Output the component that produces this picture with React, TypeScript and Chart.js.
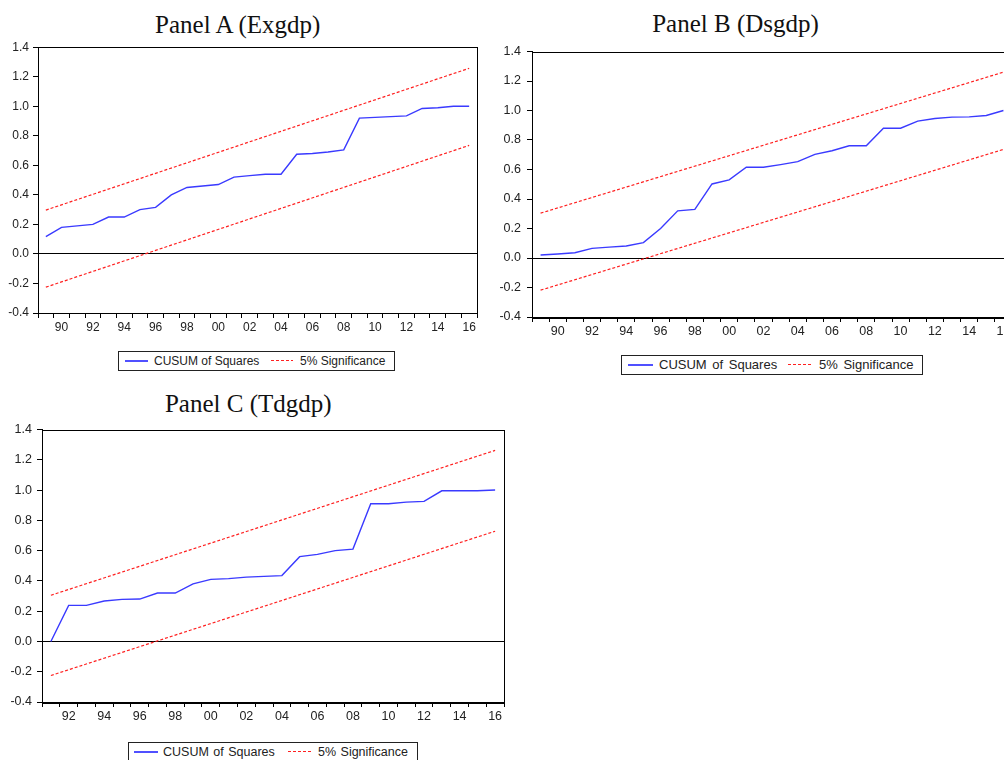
import React, { useEffect, useRef } from "react";
import { Chart, registerables } from "chart.js";

Chart.register(...registerables);

// ---------- DATA ----------
const yearsA = [1989, 1990, 1991, 1992, 1993, 1994, 1995, 1996, 1997, 1998, 1999, 2000, 2001, 2002, 2003, 2004, 2005, 2006, 2007, 2008, 2009, 2010, 2011, 2012, 2013, 2014, 2015, 2016];
const cusumA = [0.117, 0.18, 0.19, 0.2, 0.25, 0.25, 0.3, 0.315, 0.4, 0.45, 0.46, 0.47, 0.52, 0.53, 0.54, 0.54, 0.675, 0.68, 0.69, 0.705, 0.92, 0.925, 0.93, 0.935, 0.985, 0.99, 1.0, 1.0];
const sigYearsA = [1989, 2016];
const upperA = [0.297, 1.257];
const lowerA = [-0.225, 0.735];

const yearsB = [1989, 1990, 1991, 1992, 1993, 1994, 1995, 1996, 1997, 1998, 1999, 2000, 2001, 2002, 2003, 2004, 2005, 2006, 2007, 2008, 2009, 2010, 2011, 2012, 2013, 2014, 2015, 2016];
const cusumB = [0.02, 0.027, 0.036, 0.065, 0.074, 0.081, 0.104, 0.2, 0.32, 0.33, 0.502, 0.53, 0.615, 0.615, 0.633, 0.653, 0.703, 0.727, 0.761, 0.761, 0.88, 0.88, 0.928, 0.946, 0.955, 0.957, 0.966, 1.0];
const sigYearsB = [1989, 2016];
const upperB = [0.304, 1.26];
const lowerB = [-0.218, 0.736];

const yearsC = [1991, 1992, 1993, 1994, 1995, 1996, 1997, 1998, 1999, 2000, 2001, 2002, 2003, 2004, 2005, 2006, 2007, 2008, 2009, 2010, 2011, 2012, 2013, 2014, 2015, 2016];
const cusumC = [0.0, 0.238, 0.238, 0.267, 0.278, 0.28, 0.32, 0.32, 0.38, 0.41, 0.415, 0.425, 0.43, 0.435, 0.56, 0.575, 0.6, 0.61, 0.91, 0.91, 0.92, 0.925, 0.995, 0.995, 0.995, 1.0];
const sigYearsC = [1991, 2016];
const upperC = [0.305, 1.262];
const lowerC = [-0.225, 0.728];

const yTickMin = -0.4;
const yTickMax = 1.4;
const yTickStep = 0.2;

const seriesLabel = "CUSUM of Squares";
const sigLabel = "5% Significance";

const BLUE = "#3a3aff";
const RED = "#ff2020";

const framePlugin = {
  id: "frame",
  afterDraw(chart: any) {
    const { ctx, chartArea } = chart;
    ctx.save();
    ctx.strokeStyle = "#000";
    ctx.lineWidth = 1;
    ctx.strokeRect(
      Math.round(chartArea.left) + 0.5,
      Math.round(chartArea.top) + 0.5,
      Math.round(chartArea.right - chartArea.left),
      Math.round(chartArea.bottom - chartArea.top)
    );
    ctx.restore();
  },
};

type PanelProps = {
  left: number;
  top: number;
  width: number;
  height: number;
  years: number[];
  values: number[];
  sigYears: number[];
  upper: number[];
  lower: number[];
  xMin: number;
  xMax: number;
  fontSize: number;
  yPad: number;
};

function Panel(p: PanelProps) {
  const ref = useRef<HTMLCanvasElement | null>(null);
  useEffect(() => {
    if (!ref.current) return;
    const tickVals: number[] = [];
    for (let v = p.xMin; v <= p.xMax + 1e-9; v += 0.5) tickVals.push(v);
    const font = { family: "'Liberation Sans', Arial, sans-serif", size: p.fontSize };
    const chart = new Chart(ref.current, {
      type: "line",
      data: {
        datasets: [
          {
            data: p.sigYears.map((x, i) => ({ x, y: p.upper[i] })),
            borderColor: RED,
            borderWidth: 1.2,
            borderDash: [3, 2],
            pointRadius: 0,
          },
          {
            data: p.sigYears.map((x, i) => ({ x, y: p.lower[i] })),
            borderColor: RED,
            borderWidth: 1.2,
            borderDash: [3, 2],
            pointRadius: 0,
          },
          {
            data: p.years.map((x, i) => ({ x, y: p.values[i] })),
            borderColor: BLUE,
            borderWidth: 1.4,
            pointRadius: 0,
            tension: 0,
          },
        ],
      },
      options: {
        responsive: false,
        maintainAspectRatio: false,
        animation: false,
        layout: { padding: { top: 0, right: 3, left: 0, bottom: 0 } },
        plugins: {
          legend: { display: false },
          title: { display: false },
          tooltip: { enabled: false },
        },
        scales: {
          x: {
            type: "linear",
            min: p.xMin,
            max: p.xMax,
            afterBuildTicks: (s: any) => {
              s.ticks = tickVals.map((v) => ({ value: v }));
            },
            afterFit: (s: any) => {
              s.height = 30;
            },
            ticks: {
              autoSkip: false,
              maxRotation: 0,
              minRotation: 0,
              padding: 2,
              color: "#222",
              font,
              callback: (v: any) => {
                const n = Number(v);
                if (Number.isInteger(n) && n % 2 === 0) return String(n % 100).padStart(2, "0");
                return "";
              },
            },
            grid: {
              drawOnChartArea: false,
              tickLength: 5,
              tickColor: (ctx: any) =>
                ctx.tick && Number.isInteger(ctx.tick.value) ? "rgba(0,0,0,0)" : "#000",
            },
            border: { color: "#000", width: 1 },
          },
          y: {
            min: yTickMin,
            max: yTickMax,
            afterFit: (s: any) => {
              s.width = 38;
            },
            ticks: {
              stepSize: yTickStep,
              padding: p.yPad,
              color: "#222",
              font,
              callback: (v: any) => {
                const n = Number(v);
                return Math.abs(n) < 1e-9 ? "0.0" : n.toFixed(1);
              },
            },
            grid: {
              tickLength: 5,
              tickColor: "#000",
              color: (ctx: any) =>
                ctx.tick && Math.abs(ctx.tick.value) < 1e-6 ? "#000" : "rgba(0,0,0,0)",
              lineWidth: 1,
            },
            border: { color: "#000", width: 1 },
          },
        },
      } as any,
      plugins: [framePlugin],
    });
    return () => chart.destroy();
  }, []);
  return (
    <canvas
      ref={ref}
      width={p.width}
      height={p.height}
      style={{ position: "absolute", left: p.left, top: p.top, width: p.width, height: p.height }}
    />
  );
}

function Title({ cx, top, text }: { cx: number; top: number; text: string }) {
  return (
    <div
      style={{
        position: "absolute",
        left: cx - 200,
        top,
        width: 400,
        textAlign: "center",
        fontFamily: "'Liberation Serif', 'Times New Roman', serif",
        fontSize: 25,
        lineHeight: "25px",
        color: "#111",
        whiteSpace: "nowrap",
      }}
    >
      {text}
    </div>
  );
}

type LegendProps = {
  left: number;
  top: number;
  width: number;
  height: number;
  fontSize: number;
  b1: number;
  b2: number;
  t1: number;
  r1: number;
  r2: number;
  t2: number;
  wordSpacing?: number;
};

function Legend(l: LegendProps) {
  const cy = Math.round(l.height / 2) - 1;
  const txt: React.CSSProperties = {
    position: "absolute",
    top: -1,
    height: l.height,
    lineHeight: l.height + "px",
    fontFamily: "'Liberation Sans', Arial, sans-serif",
    fontSize: l.fontSize,
    color: "#222",
    whiteSpace: "nowrap",
    wordSpacing: l.wordSpacing || 0,
  };
  const dashes: number[] = [];
  for (let x = l.r1; x < l.r2; x += 5) dashes.push(x);
  return (
    <div
      style={{
        position: "absolute",
        left: l.left,
        top: l.top,
        width: l.width,
        height: l.height,
        border: "1px solid #222",
        boxSizing: "border-box",
        background: "#fff",
      }}
    >
      <div
        style={{
          position: "absolute",
          left: l.b1 - l.left - 1,
          top: cy - 1,
          width: l.b2 - l.b1,
          height: 2,
          background: "#5050ff",
        }}
      />
      <div style={{ ...txt, left: l.t1 - l.left - 1 }}>{seriesLabel}</div>
      {dashes.map((x) => (
        <div
          key={x}
          style={{
            position: "absolute",
            left: x - l.left - 1,
            top: cy - 1,
            width: Math.min(3, l.r2 - x),
            height: 1,
            background: RED,
          }}
        />
      ))}
      <div style={{ ...txt, left: l.t2 - l.left - 1 }}>{sigLabel}</div>
    </div>
  );
}

export default function App() {
  return (
    <div
      style={{
        position: "absolute",
        left: 0,
        top: 0,
        width: 1004,
        height: 760,
        overflow: "hidden",
        background: "#fff",
      }}
    >
      <Title cx={237.7} top={12.4} text="Panel A (Exgdp)" />
      <Panel
        left={0}
        top={36}
        width={480}
        height={307}
        years={yearsA}
        values={cusumA}
        sigYears={sigYearsA}
        upper={upperA}
        lower={lowerA}
        xMin={1988.5}
        xMax={2016.5}
        fontSize={12}
        yPad={4}
      />
      <Legend left={118} top={351} width={277} height={20} fontSize={12} b1={125} b2={148} t1={154} r1={271} r2={293} t2={300} />

      <Title cx={735.5} top={10.8} text="Panel B (Dsgdp)" />
      <Panel
        left={494}
        top={38}
        width={521}
        height={309}
        years={yearsB}
        values={cusumB}
        sigYears={sigYearsB}
        upper={upperB}
        lower={lowerB}
        xMin={1988.5}
        xMax={2016.5}
        fontSize={12.5}
        yPad={6}
      />
      <Legend left={621} top={355} width={302} height={20} fontSize={13} b1={628} b2={653} t1={659} r1={788} r2={813} t2={819} wordSpacing={2} />

      <Title cx={248.3} top={390.8} text="Panel C (Tdgdp)" />
      <Panel
        left={4}
        top={417}
        width={503}
        height={315}
        years={yearsC}
        values={cusumC}
        sigYears={sigYearsC}
        upper={upperC}
        lower={lowerC}
        xMin={1990.5}
        xMax={2016.5}
        fontSize={12.5}
        yPad={5}
      />
      <Legend left={128} top={742} width={290} height={20} fontSize={12.5} b1={134} b2={158} t1={163} r1={288} r2={313} t2={318} wordSpacing={1} />
    </div>
  );
}
